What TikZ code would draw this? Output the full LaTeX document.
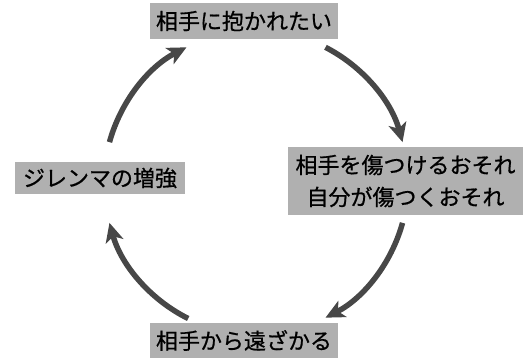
\documentclass[tikz,border=0pt]{standalone}
\usepackage{fontspec}
\setmainfont[FakeBold=0.7]{Noto Sans CJK JP}
\usetikzlibrary{arrows.meta,calc}
\definecolor{boxgray}{HTML}{B0B0B0}
\definecolor{arrowgray}{HTML}{474747}
\begin{document}
\begin{tikzpicture}[x=1pt,y=1pt,
  lbl/.style={fill=boxgray,inner sep=0pt,align=center,font=\fontsize{22}{32}\selectfont,text=black},
  cyc/.style={draw=arrowgray,line width=5.5pt,-{Stealth[length=19pt,width=18pt,inset=5pt]}}]
\useasboundingbox (0,0) rectangle (524,358);
\node[lbl,minimum width=188,minimum height=36] (top) at (244,337) {相手に抱かれたい};
\node[lbl,minimum width=235,minimum height=68] (right) at (405.5,177) {相手を傷つけるおそれ\\自分が傷つくおそれ};
\node[lbl,minimum width=188,minimum height=35] (bottom) at (244,17.5) {相手から遠ざかる};
\node[lbl,minimum width=170,minimum height=32] (left) at (100,180) {ジレンマの増強};
\coordinate (c) at (256,175.5);
\coordinate (s1) at ($(c)+(62.8:152)$);
\coordinate (s2) at ($(c)+(-15.4:152)$);
\coordinate (s3) at ($(c)+(243.5:152)$);
\coordinate (s4) at ($(c)+(164.6:152)$);
\draw[cyc] (s1) arc[start angle=62.8,end angle=15.4,radius=152];
\draw[cyc] (s2) arc[start angle=-15.4,end angle=-62.8,radius=152];
\draw[cyc] (s3) arc[start angle=243.5,end angle=195.4,radius=152];
\draw[cyc] (s4) arc[start angle=164.6,end angle=117.2,radius=152];
\end{tikzpicture}
\end{document}
